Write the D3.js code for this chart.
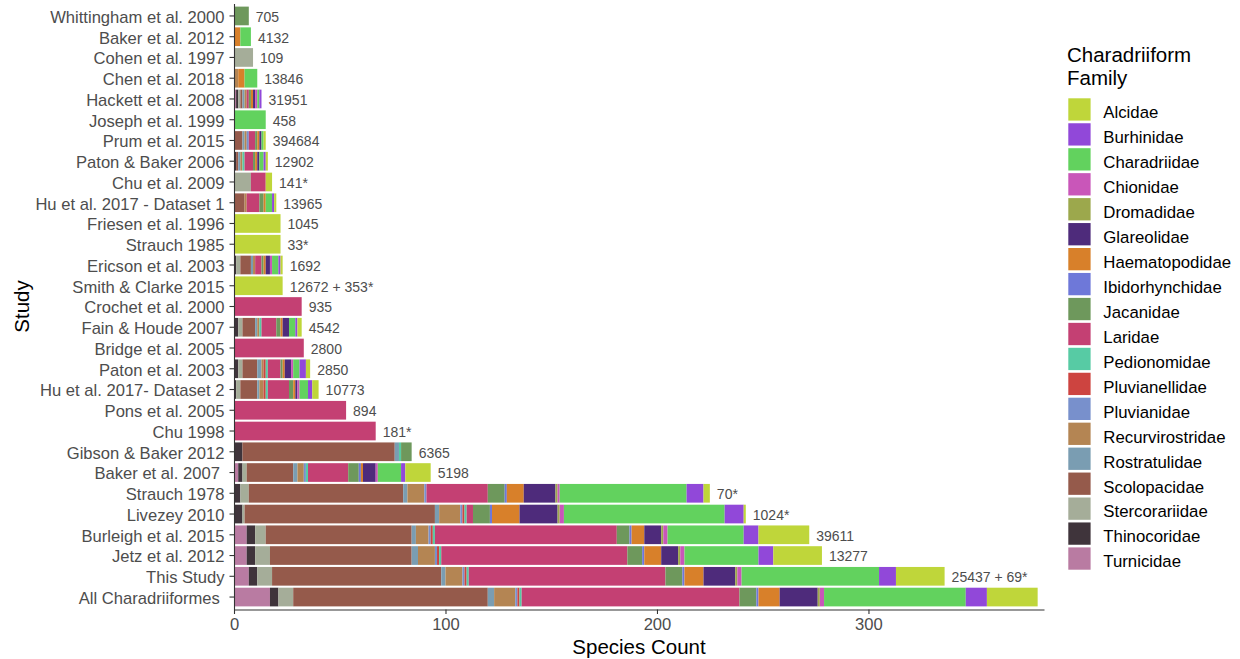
<!DOCTYPE html>
<html>
<head>
<meta charset="utf-8">
<script src="https://cdn.jsdelivr.net/npm/d3@7"></script>
<style>
  html, body { margin: 0; padding: 0; background: #fff; }
  svg { display: block; font-family: "Liberation Sans", Arial, sans-serif; }
</style>
</head>
<body>
<svg id="chart" width="1240" height="659"></svg>
<script>
// Studies, listed top to bottom
const studies = [
  "Whittingham et al. 2000", "Baker et al. 2012", "Cohen et al. 1997", "Chen et al. 2018",
  "Hackett et al. 2008", "Joseph et al. 1999", "Prum et al. 2015", "Paton & Baker 2006",
  "Chu et al. 2009", "Hu et al. 2017 - Dataset 1", "Friesen et al. 1996", "Strauch 1985",
  "Ericson et al. 2003", "Smith & Clarke 2015", "Crochet et al. 2000", "Fain & Houde 2007",
  "Bridge et al. 2005", "Paton et al. 2003", "Hu et al. 2017- Dataset 2", "Pons et al. 2005",
  "Chu 1998", "Gibson & Baker 2012", "Baker et al. 2007 ", "Strauch 1978", "Livezey 2010",
  "Burleigh et al. 2015", "Jetz et al. 2012", "This Study", "All Charadriiformes "
];

// Number of characters / sequences reported by each study
const studyLabels = [
  "705", "4132", "109", "13846", "31951", "458", "394684", "12902", "141*", "13965",
  "1045", "33*", "1692", "12672 + 353*", "935", "4542", "2800", "2850", "10773", "894",
  "181*", "6365", "5198", "70*", "1024*", "39611", "13277", "25437 + 69*", ""
];

// Species sampled per family, one value per study (same order as `studies`)
const turnicidae       = [0,0,0,0,1,0,0,0,0,0,0,0,0,0,0,0,0,0,0,0,0,0,2,0,0,6,6,7,17];
const thinocoridae     = [0,0,0,0,1,0,0,1,0,0,0,0,1,0,0,2,0,2,1,0,0,4,2,3,4,4,4,4,4];
const stercorariidae   = [0,0,9,0,1,0,0,0,8,0,0,0,2,0,0,2,0,2,2,0,0,0,2,4,1,5,7,7,7];
const scolopacidae     = [0,0,0,0,1,0,4,1,0,5,0,0,5,0,0,6,0,7,8,0,0,72,22,73,90,69,67,80,92];
const rostratulidae    = [0,0,0,0,1,0,1,1,0,0,0,0,1,0,0,1,0,2,1,0,0,2,2,2,2,2,3,2,3];
const recurvirostridae = [0,0,0,2,1,0,1,1,0,1,0,0,1,0,0,1,0,1,2,0,0,0,3,8,10,6,8,8,10];
const pluvianidae      = [0,0,0,0,0,0,1,0,0,0,0,0,0,0,0,0,0,0,0,0,0,0,1,1,1,1,1,1,1];
const pluvianellidae   = [0,0,0,0,0,0,0,0,0,0,0,0,0,0,0,0,0,1,1,0,0,0,0,0,1,1,1,1,1];
const pedionomidae     = [0,0,0,0,0,0,0,1,0,0,0,0,0,0,0,1,0,1,1,0,0,1,1,0,1,1,1,1,1];
const laridae          = [0,0,0,0,1,0,3,4,7,6,0,0,3,0,32,7,33,6,10,53,67,0,19,29,3,86,88,93,103];
const jacanidae        = [7,0,0,0,1,0,1,1,0,2,0,0,1,0,0,2,0,1,2,0,0,5,5,8,8,6,7,8,8];
const ibidorhynchidae  = [0,0,0,0,0,0,0,0,0,0,0,0,0,0,0,0,0,0,0,0,0,0,1,1,1,1,1,1,1];
const haematopodidae   = [0,3,0,3,1,0,1,1,0,1,0,0,1,0,0,1,0,1,1,0,0,0,1,8,13,6,8,9,10];
const glareolidae      = [0,0,0,0,1,0,1,1,0,0,0,0,2,0,0,3,0,3,1,0,0,0,6,15,18,8,8,15,18];
const dromadidae       = [0,0,0,0,0,0,0,0,0,0,0,0,0,0,0,0,0,0,0,0,0,0,0,1,1,1,1,1,1];
const chionidae        = [0,0,0,0,1,0,0,0,0,0,0,0,1,0,0,0,0,1,1,0,0,0,1,1,2,2,2,2,2];
const charadriidae     = [0,5,0,6,1,15,1,2,0,3,0,0,3,0,0,3,0,3,4,0,0,0,11,60,76,36,35,65,67];
const burhinidae       = [0,0,0,0,1,0,0,1,0,1,0,0,1,0,0,1,0,3,2,0,0,0,2,8,9,7,7,8,10];
const alcidae          = [0,0,0,0,0,0,1,1,3,1,22,22,1,23,0,2,0,2,3,0,0,0,12,3,1,24,23,23,24];

// Family names (legend order) and their fill colours
const families = [
  "Alcidae", "Burhinidae", "Charadriidae", "Chionidae", "Dromadidae", "Glareolidae",
  "Haematopodidae", "Ibidorhynchidae", "Jacanidae", "Laridae", "Pedionomidae",
  "Pluvianellidae", "Pluvianidae", "Recurvirostridae", "Rostratulidae", "Scolopacidae",
  "Stercorariidae", "Thinocoridae", "Turnicidae"
];
const familyColors = [
  "#bfd63a", "#9148d9", "#62d25e", "#c956b9", "#9ca84c", "#4e2b7b",
  "#d8802a", "#6e78d9", "#6e985c", "#c44073", "#57cba4",
  "#cd4440", "#7890cc", "#b48553", "#7a9db2", "#955a4b",
  "#a5ad99", "#3f343b", "#b97ba2"
];

const xTicks = [0, 100, 200, 300];

// ---- table built from the arrays above ----
const familyValues = {
  Alcidae: alcidae, Burhinidae: burhinidae, Charadriidae: charadriidae, Chionidae: chionidae,
  Dromadidae: dromadidae, Glareolidae: glareolidae, Haematopodidae: haematopodidae,
  Ibidorhynchidae: ibidorhynchidae, Jacanidae: jacanidae, Laridae: laridae,
  Pedionomidae: pedionomidae, Pluvianellidae: pluvianellidae, Pluvianidae: pluvianidae,
  Recurvirostridae: recurvirostridae, Rostratulidae: rostratulidae, Scolopacidae: scolopacidae,
  Stercorariidae: stercorariidae, Thinocoridae: thinocoridae, Turnicidae: turnicidae
};
const rows = studies.map((s, i) => {
  const r = { study: s, label: studyLabels[i] };
  families.forEach(f => { r[f] = familyValues[f][i]; });
  return r;
});

// stack from the end of the alphabet outward (Turnicidae sits at zero)
const stackKeys = families.slice().reverse();
const stacked = d3.stack().keys(stackKeys)(rows);

const color = d3.scaleOrdinal().domain(families).range(familyColors);

// ---- scales ----
const x = d3.scaleLinear().domain([0, 383]).range([234, 1044]);
const y = d3.scaleBand().domain(studies).range([3.5, 609.5])
  .paddingInner(0.1).paddingOuter(0.15);

const svg = d3.select("#chart");
svg.append("rect").attr("width", 1240).attr("height", 659).attr("fill", "#fff");

// ---- bars ----
const layers = svg.append("g").selectAll("g")
  .data(stacked).join("g")
  .attr("fill", d => color(d.key));

layers.selectAll("rect")
  .data(d => d.filter(p => p[1] - p[0] > 0))
  .join("rect")
  .attr("x", p => x(p[0]))
  .attr("width", p => x(p[1]) - x(p[0]))
  .attr("y", p => y(p.data.study))
  .attr("height", y.bandwidth());

// ---- value labels at the end of each bar ----
const totals = rows.map(r => d3.sum(families, f => r[f]));
svg.append("g").selectAll("text")
  .data(rows).join("text")
  .attr("x", (r, i) => x(totals[i]) + 7)
  .attr("y", r => y(r.study) + y.bandwidth() / 2)
  .attr("dy", "0.42em")
  .attr("font-size", 14)
  .attr("fill", "#4d4d4d")
  .text(r => r.label);

// ---- axes ----
const axisColor = "#333333";
const yAxis = svg.append("g")
  .attr("transform", `translate(${x(0)},0)`)
  .call(d3.axisLeft(y).tickSize(4.5).tickSizeOuter(0).tickPadding(5));
yAxis.select(".domain").attr("stroke", axisColor).attr("stroke-width", 1.1);
yAxis.selectAll(".tick line").attr("stroke", axisColor).attr("stroke-width", 1.1);
yAxis.selectAll(".tick text")
  .attr("dy", "0.41em")
  .attr("font-size", 16.6)
  .attr("fill", "#4d4d4d")
  .style("font-family", "'Liberation Sans', Arial, sans-serif")
  .style("white-space", "pre");

const xAxis = svg.append("g")
  .attr("transform", `translate(0,${609.5})`)
  .call(d3.axisBottom(x).tickValues(xTicks).tickSize(4.5).tickSizeOuter(0).tickPadding(4));
xAxis.select(".domain").attr("stroke", axisColor).attr("stroke-width", 1.1);
xAxis.selectAll(".tick line").attr("stroke", axisColor).attr("stroke-width", 1.1);
xAxis.selectAll(".tick text")
  .attr("font-size", 16.6)
  .attr("fill", "#4d4d4d")
  .style("font-family", "'Liberation Sans', Arial, sans-serif");

// axis titles
svg.append("text")
  .attr("x", (x(0) + 1044) / 2)
  .attr("y", 654)
  .attr("text-anchor", "middle")
  .attr("font-size", 20.5)
  .attr("fill", "#000")
  .text("Species Count");

svg.append("text")
  .attr("transform", `translate(29,${(3.5 + 609.5) / 2}) rotate(-90)`)
  .attr("text-anchor", "middle")
  .attr("font-size", 20.5)
  .attr("fill", "#000")
  .text("Study");

// ---- legend ----
const legend = svg.append("g");
legend.append("text")
  .attr("x", 1067).attr("y", 62)
  .attr("font-size", 20.5).attr("fill", "#000")
  .text("Charadriiform");
legend.append("text")
  .attr("x", 1067).attr("y", 85)
  .attr("font-size", 20.5).attr("fill", "#000")
  .text("Family");

const keyStep = 24.95, keyTop = 98.3, keySize = 22.3;
const items = legend.selectAll("g.item")
  .data(families).join("g")
  .attr("class", "item")
  .attr("transform", (d, i) => `translate(1068.3,${keyTop + i * keyStep})`);
items.append("rect")
  .attr("width", keySize).attr("height", keySize)
  .attr("fill", d => color(d));
items.append("text")
  .attr("x", 35).attr("y", keySize / 2 + 2.8)
  .attr("dy", "0.36em")
  .attr("font-size", 16.8).attr("fill", "#000")
  .text(d => d);
</script>
</body>
</html>
